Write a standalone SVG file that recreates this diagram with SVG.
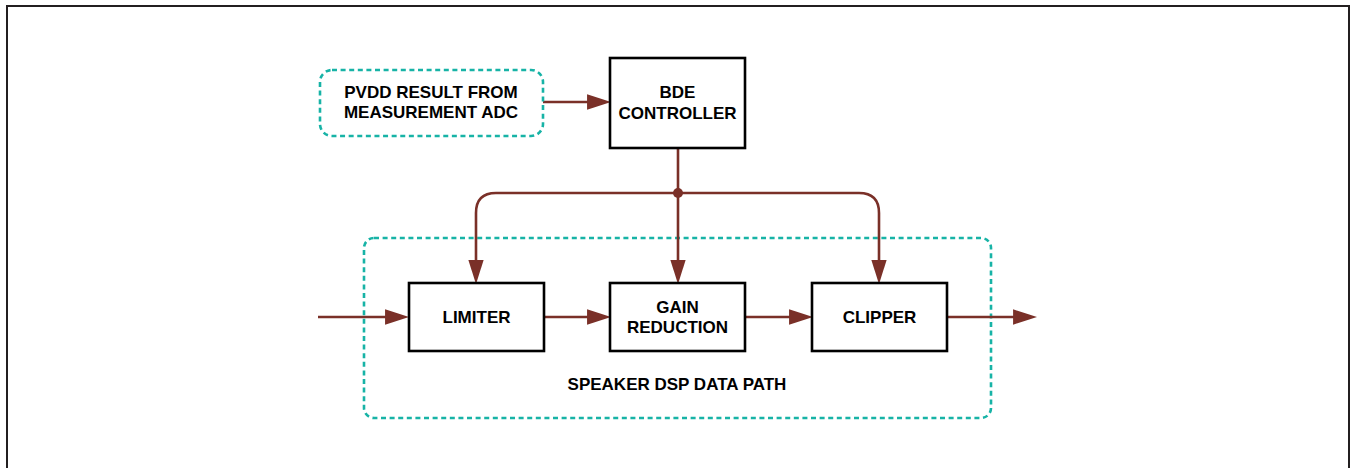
<svg xmlns="http://www.w3.org/2000/svg" width="1351" height="468" viewBox="0 0 1351 468">
<style>
.box{fill:#fff;stroke:#000;stroke-width:2.6}
.dash{fill:none;stroke:#17b3a6;stroke-width:2.6;stroke-dasharray:5 3.6}
.wire{fill:none;stroke:#7a3028;stroke-width:2.6}
.t{font-family:"Liberation Sans",Arial,sans-serif;font-weight:bold;font-size:17px;fill:#000;text-anchor:middle}
</style>
<defs>
<marker id="ah" markerUnits="userSpaceOnUse" markerWidth="24" markerHeight="16" viewBox="0 0 22 14" refX="10" refY="7" orient="auto">
<path d="M0,0 L22,7 L0,14 z" fill="#7a3028"/>
</marker>
</defs>
<rect x="7" y="6" width="1342" height="480" fill="none" stroke="#231f20" stroke-width="2"/>
<g id="datapath">
<rect class="dash" x="364" y="238" width="627" height="180" rx="10"/>
<text class="t" x="677" y="390">SPEAKER DSP DATA PATH</text>
</g>
<g id="connectors">
<line class="wire" x1="543" y1="102" x2="598" y2="102" marker-end="url(#ah)"/>
<path class="wire" d="M678,148 V193"/>
<path class="wire" d="M678,193 H496 Q476,193 476,213 V271" marker-end="url(#ah)"/>
<path class="wire" d="M678,193 V271" marker-end="url(#ah)"/>
<path class="wire" d="M678,193 H859 Q879,193 879,213 V271" marker-end="url(#ah)"/>
<circle cx="678" cy="193" r="5" fill="#7a3028"/>
<line class="wire" x1="318" y1="317" x2="396" y2="317" marker-end="url(#ah)"/>
<line class="wire" x1="544" y1="317" x2="598" y2="317" marker-end="url(#ah)"/>
<line class="wire" x1="745" y1="317" x2="800" y2="317" marker-end="url(#ah)"/>
<line class="wire" x1="947" y1="317" x2="1024" y2="317" marker-end="url(#ah)"/>
</g>
<g id="pvdd">
<rect class="dash" x="320" y="70" width="223" height="66" rx="12"/>
<text class="t" x="431" y="98">PVDD RESULT FROM</text>
<text class="t" x="431" y="118">MEASUREMENT ADC</text>
</g>
<g id="bde">
<rect class="box" x="610" y="58" width="135" height="90"/>
<text class="t" x="677.5" y="98">BDE</text>
<text class="t" x="677.5" y="119">CONTROLLER</text>
</g>
<g id="limiter">
<rect class="box" x="409" y="283" width="135" height="68"/>
<text class="t" x="476.5" y="323">LIMITER</text>
</g>
<g id="gain">
<rect class="box" x="610" y="283" width="135" height="68"/>
<text class="t" x="677.5" y="313">GAIN</text>
<text class="t" x="677.5" y="333">REDUCTION</text>
</g>
<g id="clipper">
<rect class="box" x="812" y="283" width="135" height="68"/>
<text class="t" x="879.5" y="323">CLIPPER</text>
</g>
</svg>
